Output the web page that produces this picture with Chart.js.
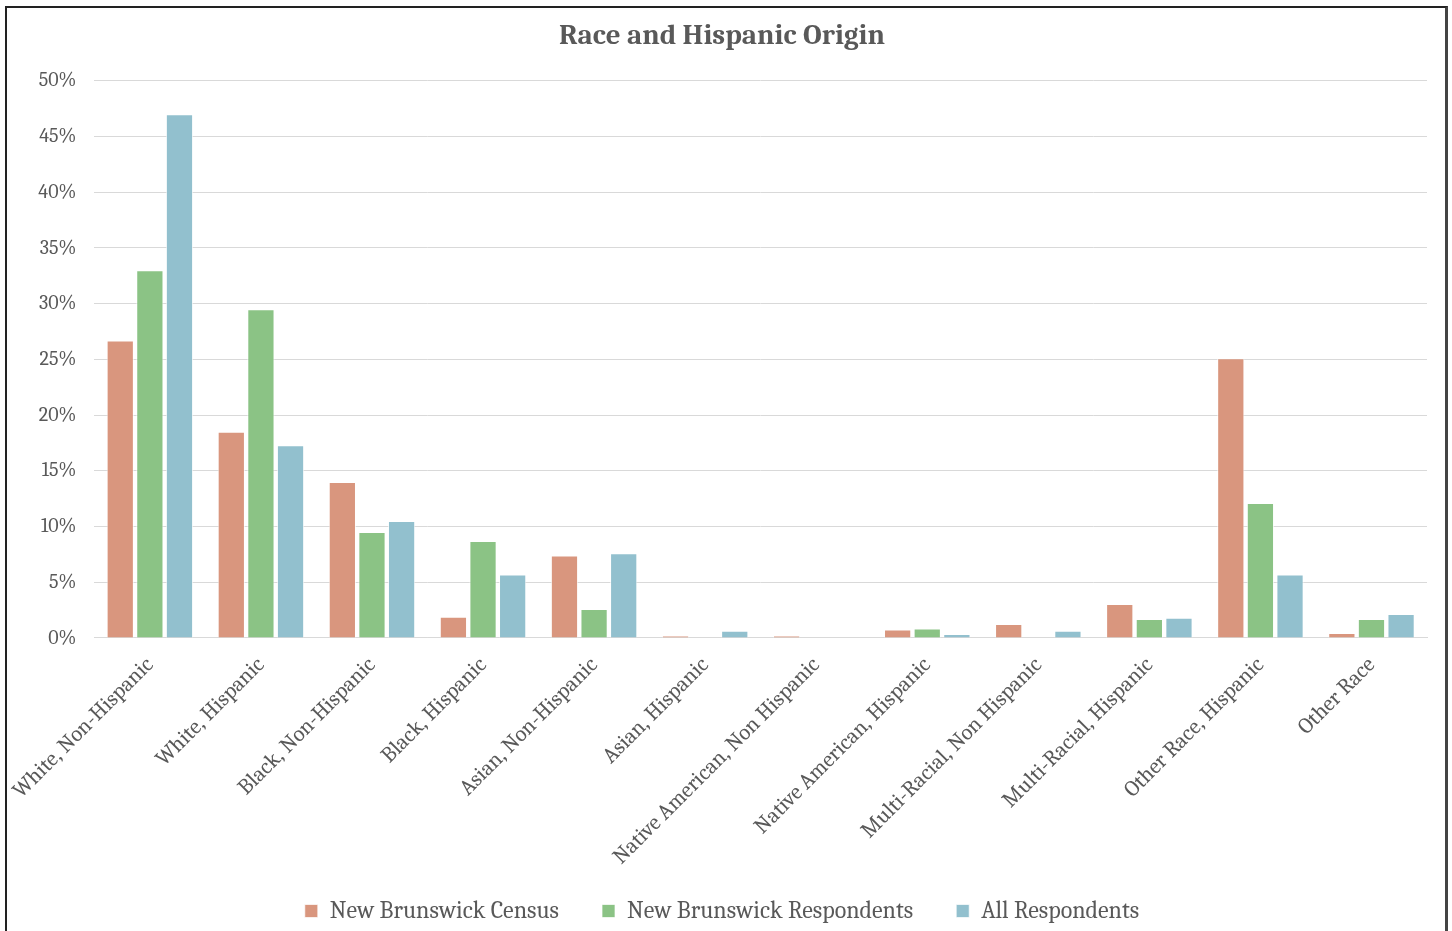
<!DOCTYPE html>
<html>
<head>
<meta charset="utf-8">
<script src="https://cdn.jsdelivr.net/npm/chart.js@4.4.0/dist/chart.umd.min.js"></script>
<style>
  body { margin: 0; background: #fff; }
  #frame {
    position: absolute; left: 5px; top: 6px;
    width: 1438px; height: 940px;
    border: 2px solid #222; border-right: 3px solid #444;
    background: #fff;
  }
  #wrap { position: absolute; left: 0; top: 0; width: 1438px; height: 925px; }
</style>
</head>
<body>
<div id="frame"><div id="wrap"><canvas id="chart"></canvas></div></div>
<script>
const categories = [
  "White, Non-Hispanic", "White, Hispanic", "Black, Non-Hispanic", "Black, Hispanic",
  "Asian, Non-Hispanic", "Asian, Hispanic", "Native American, Non Hispanic",
  "Native American, Hispanic", "Multi-Racial, Non Hispanic", "Multi-Racial, Hispanic",
  "Other Race, Hispanic", "Other Race"
];
const censusNB = [26.7, 18.5, 14.0, 1.9, 7.4, 0.2, 0.2, 0.75, 1.25, 3.05, 25.1, 0.45];
const respondentsNB = [33.0, 29.5, 9.5, 8.7, 2.6, 0, 0, 0.85, 0, 1.7, 12.1, 1.7];
const respondentsAll = [47.0, 17.3, 10.5, 5.7, 7.6, 0.65, 0, 0.35, 0.65, 1.8, 5.7, 2.15];
const yTicks = [0, 5, 10, 15, 20, 25, 30, 35, 40, 45, 50];

const serif = "Cambria, 'Liberation Serif', 'DejaVu Serif', serif";
const ctx = document.getElementById("chart").getContext("2d");

// the x labels are allowed to run past the axis box, so don't clip them to it
const noLabelClip = {
  id: "noLabelClip",
  afterUpdate: (chart) => { chart.scales.x._computeLabelArea = () => undefined; }
};

new Chart(ctx, {
  type: "bar",
  data: {
    labels: categories,
    datasets: [
      { label: "New Brunswick Census", data: censusNB, backgroundColor: "#d9967e" },
      { label: "New Brunswick Respondents", data: respondentsNB, backgroundColor: "#8bc385" },
      { label: "All Respondents", data: respondentsAll, backgroundColor: "#92c0ce" }
    ]
  },
  plugins: [noLabelClip],
  options: {
    responsive: true,
    maintainAspectRatio: false,
    animation: false,
    datasets: {
      bar: {
        categoryPercentage: 0.8,
        barPercentage: 0.92,
        borderColor: "rgba(255,255,255,0.7)",
        borderWidth: 1
      }
    },
    layout: { padding: { left: 10, right: 18, top: 4, bottom: 0 } },
    plugins: {
      title: {
        display: true,
        text: "Race and Hispanic Origin",
        color: "#595959",
        font: { family: serif, size: 29, weight: "bold" },
        padding: { top: 6, bottom: 28 }
      },
      legend: {
        position: "bottom",
        labels: {
          color: "#595959",
          font: { family: serif, size: 24 },
          boxWidth: 13,
          boxHeight: 13,
          padding: 43
        }
      },
      tooltip: { enabled: false }
    },
    scales: {
      x: {
        grid: { display: false },
        border: { display: true, color: "#d9d9d9" },
        // let the rotated labels run a little into the gap above the legend
        afterFit: (scale) => { scale.height -= 20; },
        ticks: {
          color: "#595959",
          font: { family: serif, size: 22 },
          minRotation: 45,
          maxRotation: 45,
          padding: 6,
          autoSkip: false
        }
      },
      y: {
        min: 0,
        max: 50,
        afterBuildTicks: (axis) => { axis.ticks = yTicks.map(v => ({ value: v })); },
        grid: { color: "#d9d9d9", drawTicks: false },
        border: { display: false },
        ticks: {
          color: "#595959",
          font: { family: serif, size: 20 },
          padding: 18,
          callback: (v) => v + "%"
        }
      }
    }
  }
});
</script>
</body>
</html>
